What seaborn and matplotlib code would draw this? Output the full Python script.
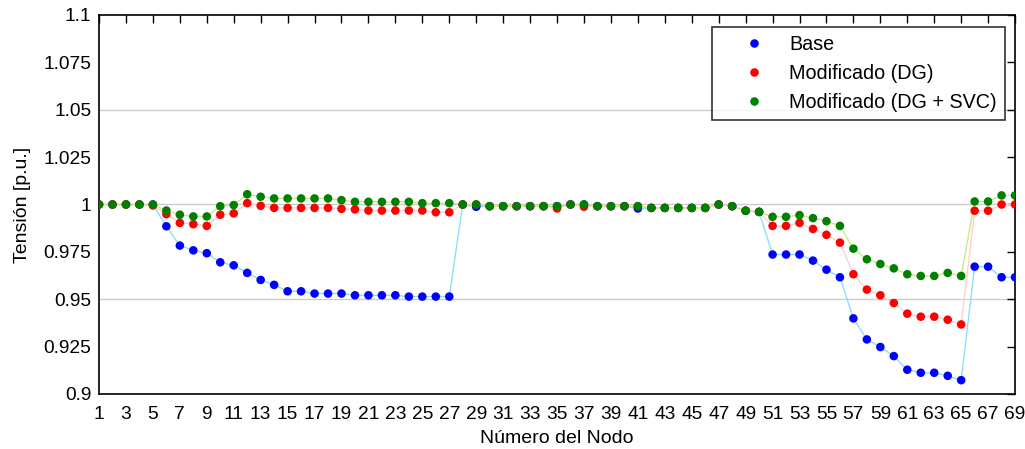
import numpy as np
import pandas as pd
import matplotlib
matplotlib.use("Agg")
import matplotlib.pyplot as plt
import seaborn as sns

# --- datos ---
nodos = list(range(1, 70))

base = [1.0, 1.0, 1.0, 1.0, 1.0,
        0.9885, 0.9783, 0.9758, 0.9743, 0.9695, 0.9679, 0.9639, 0.9602, 0.9576,
        0.9542, 0.9542, 0.953, 0.953, 0.953, 0.9521, 0.9521, 0.9521, 0.9521,
        0.9514, 0.9514, 0.9514, 0.9514,
        1.0, 0.9988, 0.9991, 0.9991, 0.9991, 0.9991, 0.9991, 0.9991, 1.0, 1.0,
        0.9991, 0.9991, 0.9991, 0.9979, 0.9982, 0.9982, 0.9982, 0.9982, 0.9982,
        1.0, 0.9991, 0.9967, 0.9961,
        0.9736, 0.9736, 0.9736, 0.9704, 0.9656, 0.9616, 0.9399, 0.9288, 0.9248,
        0.92, 0.9128, 0.9112, 0.9112, 0.9096, 0.9073,
        0.9672, 0.9672, 0.9616, 0.9616]

dg = [1.0, 1.0, 1.0, 1.0, 0.9995,
      0.9949, 0.9903, 0.9896, 0.9887, 0.9946, 0.9953, 1.0007, 0.9993, 0.9982,
      0.9982, 0.9982, 0.9982, 0.9982, 0.9977, 0.9974, 0.9968, 0.9968, 0.9968,
      0.9968, 0.9968, 0.9959, 0.9959,
      1.0, 1.0, 0.9991, 0.9991, 0.9991, 0.9991, 0.9991, 0.9979, 1.0, 0.9988,
      0.9991, 0.9991, 0.9991, 0.9991, 0.9982, 0.9982, 0.9982, 0.9982, 0.9982,
      1.0, 0.9991, 0.9967, 0.9961,
      0.9887, 0.9887, 0.9903, 0.9871, 0.984, 0.9799, 0.9632, 0.9551, 0.9521,
      0.948, 0.9424, 0.9408, 0.9408, 0.9392, 0.9367,
      0.9967, 0.9967, 1.0, 1.0]

dg_svc = [1.0, 1.0, 1.0, 1.0, 1.0,
          0.9968, 0.9946, 0.9937, 0.9937, 0.9991, 0.9997, 1.0054, 1.0041, 1.0032,
          1.0032, 1.0032, 1.0032, 1.0032, 1.0023, 1.0014, 1.0014, 1.0014, 1.0014,
          1.0014, 1.0007, 1.0007, 1.0007,
          1.0, 1.0, 0.9991, 0.9991, 0.9991, 0.9991, 0.9991, 0.9991, 1.0, 1.0,
          0.9991, 0.9991, 0.9991, 0.9991, 0.9982, 0.9982, 0.9982, 0.9982, 0.9982,
          1.0, 0.9991, 0.9967, 0.9961,
          0.9935, 0.9935, 0.9944, 0.9928, 0.9912, 0.9887, 0.9767, 0.9711, 0.9686,
          0.9663, 0.9632, 0.9623, 0.9623, 0.9639, 0.9623,
          1.0016, 1.0016, 1.0048, 1.0048]

casos = ['Base', 'Modificado (DG)', 'Modificado (DG + SVC)']
colores_pto = ['#0000ff', '#ff0000', '#008000']
colores_lin = ['#8fdcff', '#ffcfcf', '#c4ef7a']

yticks = [0.9, 0.925, 0.95, 0.975, 1.0, 1.025, 1.05, 1.075, 1.1]
ytick_labels = ['0.9', '0.925', '0.95', '0.975', '1', '1.025', '1.05', '1.075', '1.1']


def main():
    df = pd.DataFrame({
        'Nodo': nodos * 3,
        'Tension': base + dg + dg_svc,
        'Caso': [c for c in casos for _ in nodos],
    })

    sns.set_style('white')
    plt.rcParams['font.family'] = ['Liberation Sans', 'DejaVu Sans']
    plt.rcParams['text.color'] = 'black'
    plt.rcParams['axes.labelcolor'] = 'black'

    fig = plt.figure(figsize=(10.25, 4.49), dpi=100)
    ax = fig.add_axes([0.0966, 0.1225, 0.8937, 0.8441])

    # líneas de referencia grises
    for y in [0.95, 1.0, 1.05]:
        ax.axhline(y, color='#cccccc', lw=1.0, zorder=0)

    # líneas tenues
    sns.lineplot(data=df, x='Nodo', y='Tension', hue='Caso', hue_order=casos,
                 palette=colores_lin, linewidth=1.0, legend=False, ax=ax,
                 zorder=2)
    # puntos
    sns.scatterplot(data=df, x='Nodo', y='Tension', hue='Caso', hue_order=casos,
                    palette=colores_pto, s=38, edgecolor='none', ax=ax,
                    zorder=3)

    ax.set_xlim(1, 69)
    ax.set_ylim(0.9, 1.1)
    ax.set_xticks(list(range(1, 70, 2)))
    ax.set_yticks(yticks)
    ax.set_yticklabels(ytick_labels)
    ax.tick_params(direction='in', length=6, width=1, top=True, right=True,
                   labelsize=13.8, colors='black')
    ax.tick_params(axis='x', pad=9)
    ax.tick_params(axis='y', pad=5.5)
    for s in ax.spines.values():
        s.set_color('black')
        s.set_linewidth(1.2)

    ax.set_xlabel('Número del Nodo', fontsize=14, labelpad=5)
    ax.set_ylabel('Tensión [p.u.]', fontsize=14, labelpad=9)

    leg = ax.legend(loc='upper right', bbox_to_anchor=(0.989, 0.968),
                    borderaxespad=0, fontsize=14.2, frameon=True, fancybox=False,
                    handletextpad=0.0, labelspacing=0.5, borderpad=0.4,
                    markerscale=1.0, handlelength=3.55)
    leg.get_frame().set_edgecolor('black')
    leg.get_frame().set_linewidth(1.2)
    for t in leg.get_texts():
        t.set_color('black')

    fig.savefig('out.png', dpi=100)


if __name__ == "__main__":
    main()
